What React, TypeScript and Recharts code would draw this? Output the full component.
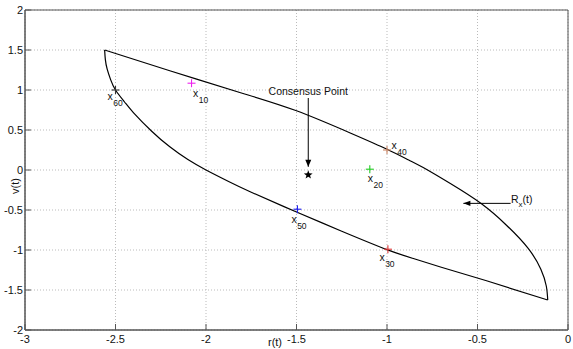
import {
  ScatterChart,
  Scatter,
  XAxis,
  YAxis,
  CartesianGrid,
  ReferenceLine,
  ReferenceArea,
  Label,
} from "recharts";

const xTicks = [-3, -2.5, -2, -1.5, -1, -0.5, 0];
const yTicks = [-2, -1.5, -1, -0.5, 0, 0.5, 1, 1.5, 2];

// upper boundary of R_x(t): top-left corner -> bottom-right corner
const upperR = [-2.56, -2.2, -1.8, -1.5, -1.2, -1.0, -0.88, -0.8, -0.65, -0.48, -0.34, -0.22, -0.15, -0.12, -0.112];
const upperV = [1.5, 1.24, 0.96, 0.74, 0.46, 0.26, 0.125, 0.03, -0.17, -0.42, -0.69, -0.98, -1.24, -1.45, -1.625];

// lower boundary of R_x(t): top-left corner -> bottom-right corner
const lowerR = [-2.56, -2.556, -2.546, -2.527, -2.5, -2.45, -2.4, -2.3, -2.2, -2.1, -2.0, -1.875, -1.75, -1.5, -1.25, -1.0, -0.85, -0.7, -0.45, -0.112];
const lowerV = [1.5, 1.38, 1.26, 1.13, 1.0, 0.85, 0.715, 0.485, 0.29, 0.13, 0.0, -0.144, -0.278, -0.525, -0.765, -0.995, -1.11, -1.215, -1.385, -1.625];

// agent states x_k at a few time steps
const agentIds = ["10", "20", "30", "40", "50", "60"];
const agentR = [-2.08, -1.095, -0.995, -1.0, -1.495, -2.5];
const agentV = [1.085, 0.01, -0.99, 0.25, -0.49, 1.0];

const consensusR = -1.435;
const consensusV = -0.06;

const agentColor: Record<string, string> = {
  "10": "#ee22ee",
  "20": "#22cc22",
  "30": "#e03a3a",
  "40": "#cc8866",
  "50": "#1a1aee",
  "60": "#333333",
};
// where the "x_k" label sits relative to the marker (px)
const labelOffset: Record<string, [number, number]> = {
  "10": [1.5, 13.5],
  "20": [-2, 12.5],
  "30": [-8.5, 11.5],
  "40": [4.5, -1.5],
  "50": [-6, 13.5],
  "60": [-8, 9.5],
};

const FONT = "'Liberation Sans', Arial, sans-serif";

const toPts = (rs: number[], vs: number[]) => rs.map((x, i) => ({ x, y: vs[i] }));
const upperData = toPts(upperR, upperV);
const lowerData = toPts(lowerR, lowerV);
const agentData = agentIds.map((id, i) => ({ id, x: agentR[i], y: agentV[i] }));

const noDot = () => <g />;

const AgentMarker = (props: any) => {
  const { cx, cy, payload } = props;
  const id = payload.id as string;
  const c = agentColor[id];
  const [dx, dy] = labelOffset[id];
  return (
    <g>
      <line x1={cx - 4} x2={cx + 4} y1={cy} y2={cy} stroke={c} strokeWidth={1.1} />
      <line x1={cx} x2={cx} y1={cy - 4} y2={cy + 4} stroke={c} strokeWidth={1.1} />
      <text x={cx + dx} y={cy + dy} fontFamily={FONT} fontSize={10.5} fill="#111">
        x
        <tspan dx={0.5} dy={6.5} fontSize={8.5}>{id}</tspan>
      </text>
    </g>
  );
};

const StarMarker = (props: any) => {
  const { cx, cy } = props;
  const pts: string[] = [];
  for (let i = 0; i < 10; i++) {
    const r = i % 2 === 0 ? 4.6 : 1.9;
    const a = -Math.PI / 2 + (i * Math.PI) / 5;
    pts.push(`${cx + r * Math.cos(a)},${cy + r * Math.sin(a)}`);
  }
  return <polygon points={pts.join(" ")} fill="#000" />;
};

// annotation arrows
const consensusArrow = [
  { x: consensusR, y: 0.9 },
  { x: consensusR, y: 0.04 },
];
const rxArrow = [
  { x: -0.317, y: -0.417 },
  { x: -0.578, y: -0.417 },
];

const DownHead = (props: any) => {
  const { cx, cy } = props;
  return <polygon points={`${cx - 3},${cy - 7} ${cx + 3},${cy - 7} ${cx},${cy}`} fill="#000" />;
};
const LeftHead = (props: any) => {
  const { cx, cy } = props;
  return <polygon points={`${cx},${cy} ${cx + 7},${cy - 2.6} ${cx + 7},${cy + 2.6}`} fill="#000" />;
};

const ConsensusText = (props: any) => {
  const { cx, cy } = props;
  return (
    <text x={cx} y={cy} textAnchor="middle" fontFamily={FONT} fontSize={10.5} fill="#111">
      Consensus Point
    </text>
  );
};
const RxText = (props: any) => {
  const { cx, cy } = props;
  return (
    <text x={cx} y={cy} fontFamily={FONT} fontSize={10.5} fill="#111">
      R
      <tspan fontSize={8} dy={4}>x</tspan>
      <tspan dy={-4}>(t)</tspan>
    </text>
  );
};

const tickStyle = { fontSize: 11, fill: "#111", fontFamily: FONT };

export default function App() {
  return (
    <div style={{ position: "absolute", left: 0, top: 0, background: "#fff" }}>
      <ScatterChart width={573} height={349} margin={{ top: 10, right: 5, bottom: 0, left: 0 }}>
        <CartesianGrid stroke="#bbbbbb" strokeDasharray="1 2" />
        <XAxis
          dataKey="x"
          type="number"
          domain={[-3, 0]}
          ticks={xTicks}
          height={19}
          tickSize={-6}
          tickMargin={11}
          tick={tickStyle}
          stroke="#555"
          interval={0}
        >
          <Label
            content={(p: any) => (
              <text x={p.viewBox.x + 250} y={p.viewBox.y + 16} textAnchor="middle" fontFamily={FONT} fontSize={11} fill="#111">
                r(t)
              </text>
            )}
          />
        </XAxis>
        <XAxis
          xAxisId="top"
          orientation="top"
          type="number"
          domain={[-3, 0]}
          ticks={xTicks}
          height={0}
          tickSize={-6}
          tick={false}
          stroke="#555"
          interval={0}
        />
        <YAxis
          dataKey="y"
          type="number"
          domain={[-2, 2]}
          ticks={yTicks}
          width={25}
          tickSize={-6}
          tickMargin={8}
          tick={tickStyle}
          stroke="#555"
          interval={0}
        >
          <Label
            content={() => (
              <text
                x={19}
                y={186}
                transform="rotate(-90, 19, 186)"
                textAnchor="middle"
                fontFamily={FONT}
                fontSize={11}
                fill="#111"
              >
                v(t)
              </text>
            )}
          />
        </YAxis>
        <YAxis
          yAxisId="right"
          orientation="right"
          type="number"
          domain={[-2, 2]}
          ticks={yTicks}
          width={0}
          tickSize={-6}
          tick={false}
          stroke="#555"
          interval={0}
        />
        <ReferenceArea x1={-3} x2={0} y1={-2} y2={2} fill="none" stroke="#555" strokeOpacity={1} fillOpacity={0} />

        <Scatter data={upperData} line={{ stroke: "#000", strokeWidth: 1.2 }} lineJointType="natural" shape={noDot} isAnimationActive={false} />
        <Scatter data={lowerData} line={{ stroke: "#000", strokeWidth: 1.2 }} lineJointType="natural" shape={noDot} isAnimationActive={false} />

        <ReferenceLine segment={consensusArrow} stroke="#000" strokeWidth={1} />
        <ReferenceLine segment={rxArrow} stroke="#000" strokeWidth={1} />
        <Scatter data={[consensusArrow[1]]} shape={DownHead} isAnimationActive={false} />
        <Scatter data={[rxArrow[1]]} shape={LeftHead} isAnimationActive={false} />
        <Scatter data={[{ x: consensusR, y: 0.94 }]} shape={ConsensusText} isAnimationActive={false} />
        <Scatter data={[{ x: -0.315, y: -0.415 }]} shape={RxText} isAnimationActive={false} />

        <Scatter data={agentData} shape={AgentMarker} isAnimationActive={false} />
        <Scatter data={[{ x: consensusR, y: consensusV }]} shape={StarMarker} isAnimationActive={false} />
      </ScatterChart>
    </div>
  );
}
